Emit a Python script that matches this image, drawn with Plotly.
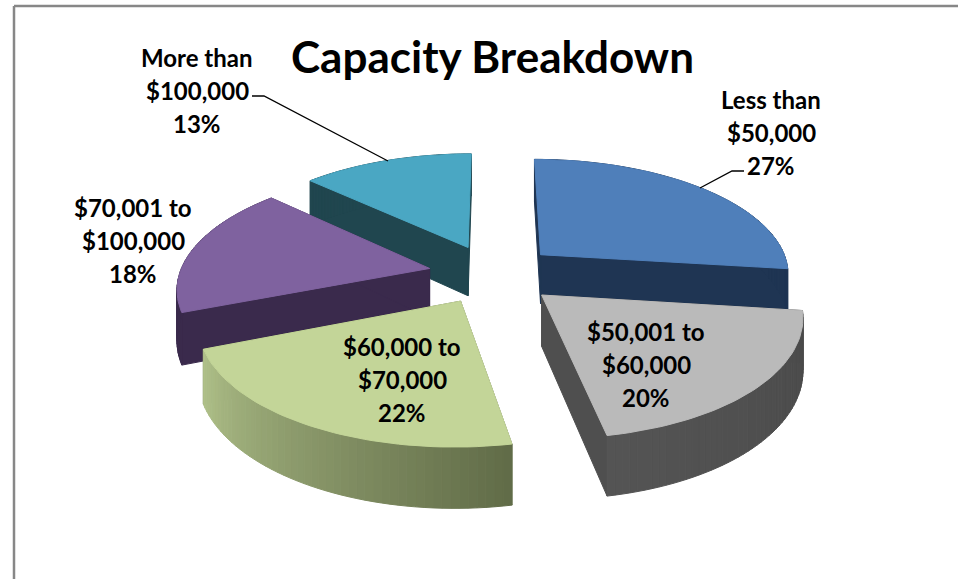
import math
import plotly.graph_objects as go

# ---- data ----
categories = ["Less than $50,000", "$50,001 to $60,000", "$60,000 to $70,000",
              "$70,001 to $100,000", "More than $100,000"]
values = [27, 20, 22, 18, 13]
label_lines = [["Less than", "$50,000"], ["$50,001 to", "$60,000"], ["$60,000 to", "$70,000"],
               ["$70,001 to", "$100,000"], ["More than", "$100,000"]]
title = "Capacity Breakdown"

top_colors = ["#4f7fba", "#bababa", "#c3d598", "#7f629f", "#4aa7c3"]
radial_colors = ["#1f3553", "#4f4f4f", "#6a7550", "#3a2a4c", "#20464f"]
wall_from = ["#1f3553", "#4a4a4a", "#616c48", "#3a2a4c", "#20464f"]
wall_to = ["#1f3553", "#545454", "#afc089", "#3a2a4c", "#20464f"]
label_centers = [(771, 99), (646, 331), (402, 346), (133, 207), (197, 57)]
line_gap = 33
draw_order = [4, 0, 3, 1, 2]

# ---- projection of the exploded pie ----
CX, CY, RX, RY, K, H, EXPL = 493, 274, 250, 115, 0.15, 50, 0.26


def hex_rgb(c):
    return [int(c[i:i + 2], 16) for i in (1, 3, 5)]


def lerp(c0, c1, t):
    a, b = hex_rgb(c0), hex_rgb(c1)
    return "rgb(%d,%d,%d)" % tuple(round(a[i] + (b[i] - a[i]) * t) for i in range(3))


def project(a, b, drop=0.0):
    s = 1 / (1 + K * b)
    return CX + a * RX * s, CY - b * RY * s + drop * s


def poly(fig, pts, color):
    xs = [p[0] for p in pts] + [pts[0][0]]
    ys = [p[1] for p in pts] + [pts[0][1]]
    fig.add_trace(go.Scatter(x=xs, y=ys, mode="lines", fill="toself", fillcolor=color,
                             line=dict(color=color, width=1), hoverinfo="skip", showlegend=False))


fig = go.Figure()
total = sum(values)
starts = [sum(values[:i]) / total * 2 * math.pi for i in range(len(values))]

for i in draw_order:
    t0 = starts[i]
    t1 = t0 + values[i] / total * 2 * math.pi
    mid = (t0 + t1) / 2
    ox, oy = EXPL * math.sin(mid), EXPL * math.cos(mid)
    n = 48
    rim = [(ox + math.sin(t0 + (t1 - t0) * j / n), oy + math.cos(t0 + (t1 - t0) * j / n)) for j in range(n + 1)]
    apex = (ox, oy)
    # radial walls
    for end in (rim[0], rim[-1]):
        poly(fig, [project(*apex), project(*end), project(*end, H), project(*apex, H)], radial_colors[i])
    # curved outer wall, shaded along its length
    for j in range(n):
        poly(fig, [project(*rim[j]), project(*rim[j + 1]), project(*rim[j + 1], H), project(*rim[j], H)],
             lerp(wall_from[i], wall_to[i], j / (n - 1)))
    # top face
    poly(fig, [project(*apex)] + [project(*p) for p in rim], top_colors[i])

# leader lines
fig.add_trace(go.Scatter(x=[252, 264, 388], y=[96, 96, 161], mode="lines", line=dict(color="#000", width=1.3),
                         hoverinfo="skip", showlegend=False))
fig.add_trace(go.Scatter(x=[700, 732, 744], y=[188, 171, 171], mode="lines", line=dict(color="#000", width=1.3),
                         hoverinfo="skip", showlegend=False))

# labels
for i, lines in enumerate(label_lines):
    cx, cy = label_centers[i]
    for j, t in enumerate(lines + ["%d%%" % round(values[i] / total * 100)]):
        fig.add_annotation(x=cx, y=cy + j * line_gap, text="<b>%s</b>" % t, showarrow=False, xanchor="center",
                           yanchor="middle", font=dict(family="Lato", size=24, color="#000"))
fig.add_annotation(x=492, y=56, text="<b>%s</b>" % title, showarrow=False, xanchor="center", yanchor="middle",
                   font=dict(family="Lato", size=44, color="#000"))

# chart frame
fig.add_shape(type="line", x0=14, x1=14, y0=6, y1=579, line=dict(color="#878787", width=2.5))
fig.add_shape(type="line", x0=14, x1=958, y0=6, y1=6, line=dict(color="#878787", width=2.5))

fig.update_layout(width=958, height=579, margin=dict(l=0, r=0, t=0, b=0), showlegend=False,
                  paper_bgcolor="white", plot_bgcolor="white",
                  xaxis=dict(range=[0, 958], visible=False, fixedrange=True),
                  yaxis=dict(range=[579, 0], visible=False, fixedrange=True))
fig.write_html("out.html", config={"displayModeBar": False},
               post_script="document.body.style.margin='0';document.body.style.overflow='hidden';")
